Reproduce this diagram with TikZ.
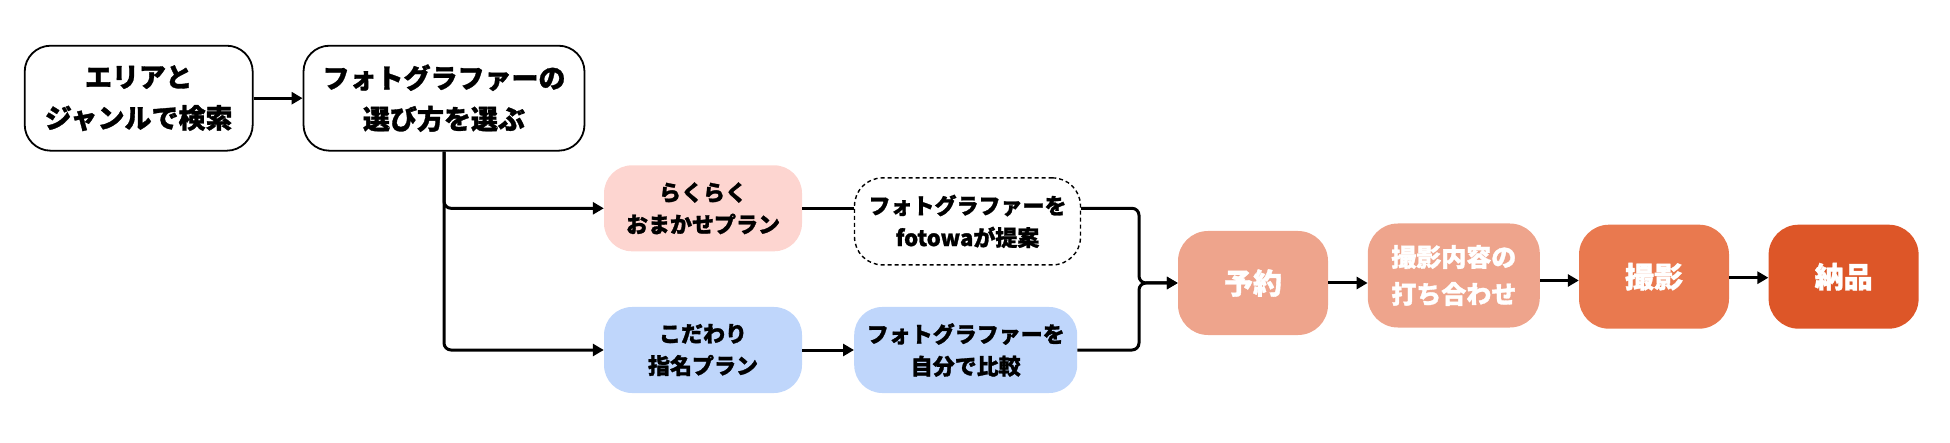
\documentclass[tikz,border=0pt]{standalone}
\usepackage{fontspec}
\setmainfont{Noto Sans CJK JP}[BoldFeatures={FakeBold=1.2}]
\usetikzlibrary{arrows.meta}

\definecolor{easypink}{HTML}{FDD5D0}
\definecolor{pickblue}{HTML}{BFD6FB}
\definecolor{flowlight}{HTML}{EEA48C}
\definecolor{flowmid}{HTML}{E9794F}
\definecolor{flowdark}{HTML}{DD5628}

\tikzset{
  bigtext/.style={font=\bfseries\fontsize{27}{41}\selectfont},
  smalltext/.style={font=\bfseries\fontsize{22}{32}\selectfont},
  box/.style={align=center, inner sep=0pt, rounded corners=26pt},
  whitebox/.style={box, bigtext, draw, line width=1.8pt, fill=white},
  planbox/.style={box, smalltext, rounded corners=28pt, minimum width=198pt, minimum height=86pt},
  stepbox/.style={box, text=white, rounded corners=30pt, minimum width=150pt, minimum height=104pt},
  link/.style={line width=3pt, rounded corners=7pt},
  arr/.style={link, -{Triangle[length=11pt,width=12pt]}}
}

\begin{document}
\begin{tikzpicture}[x=1pt,y=-1pt]
\useasboundingbox (0,0) rectangle (1950,443);

% Start
\node[whitebox, minimum width=228pt, minimum height=105pt] (area) at (138.7,98.2)
  {エリアと\\ジャンルで検索};
\node[whitebox, minimum width=281pt, minimum height=105pt] (howto) at (444,98.2)
  {フォトグラファーの\\選び方を選ぶ};

% Plans
\node[planbox, fill=easypink] (easy) at (703,208.3) {らくらく\\おまかせプラン};
\node[planbox, draw, line width=1.4pt, dash pattern=on 4pt off 3pt, fill=white,
  minimum width=226pt, minimum height=87pt] (suggest) at (967.5,221.4)
  {フォトグラファーを\\fotowaが提案};
\node[planbox, fill=pickblue] (pick) at (703,350) {こだわり\\指名プラン};
\node[planbox, fill=pickblue, minimum width=223pt] (compare) at (965.7,350)
  {フォトグラファーを\\自分で比較};

% Flow
\node[stepbox, fill=flowlight, font=\bfseries\fontsize{29}{40}\selectfont] (reserve) at (1253,283) {予約};
\node[stepbox, fill=flowlight, minimum width=172pt, font=\bfseries\fontsize{25}{37}\selectfont] (meet) at (1453.8,275.5)
  {撮影内容の\\打ち合わせ};
\node[stepbox, fill=flowmid, font=\bfseries\fontsize{29}{40}\selectfont] (shoot) at (1654,276.7) {撮影};
\node[stepbox, fill=flowdark, font=\bfseries\fontsize{29}{40}\selectfont] (deliver) at (1843.6,276.7) {納品};

\coordinate (join) at (1139,283);

% Arrows
\draw[arr] (area) -- (howto);
\draw[arr] (howto.south) |- (easy.west);
\draw[arr] (howto.south) |- (pick.west);
\draw[link] (easy.east) -- (easy.east -| suggest.west);
\draw[arr] (pick) -- (compare);
\draw[arr] (suggest.east |- easy.east) -| (join) -- (reserve.west);
\draw[arr] (compare.east) -| (join) -- (reserve.west);
\draw[arr] (reserve.east) -- (reserve.east -| meet.west);
\draw[arr] ([yshift=-5pt]meet.east) -- ([yshift=-5pt]meet.east -| shoot.west);
\draw[arr] ([yshift=-1pt]shoot.east) -- ([yshift=-1pt]shoot.east -| deliver.west);
\end{tikzpicture}
\end{document}
